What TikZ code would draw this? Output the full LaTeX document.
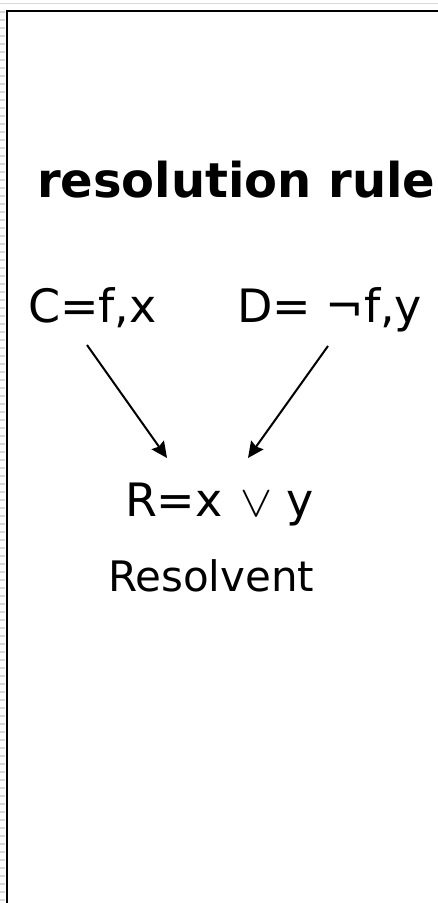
\documentclass[tikz,border=0pt]{standalone}
\usepackage{fontspec}
\usepackage{graphicx}
\setmainfont{DejaVu Sans}
\usetikzlibrary{arrows.meta}
\definecolor{framegray}{RGB}{217,217,217}
\tikzset{
  lbl/.style={anchor=base west, inner sep=0pt, outer sep=0pt},
  conn/.style={line width=2pt, -{Stealth[length=16pt,width=15pt,inset=2pt]}},
}
\newcommand{\orsym}{\resizebox{32pt}{24.5pt}{$\vee$}}
\begin{document}
\begin{tikzpicture}[x=1pt,y=1pt]
\useasboundingbox (0,0) rectangle (438,-903);
\fill[white] (0,0) rectangle (438,-903);
% slide frame remnants
\draw[framegray, line width=1.4pt] (0,-3.7) -- (438,-3.7);
\draw[framegray, line width=5pt, dash pattern=on 2pt off 6pt] (2.5,-11) -- (2.5,-903);
\draw[black, line width=2.2pt] (7,-903) -- (7,-11) -- (438,-11);
% texts
\node[lbl] (title) at (37,-197) {\fontsize{48}{52}\selectfont\bfseries resolution rule};
\node[lbl] (C) at (28,-322) {\fontsize{46}{50}\selectfont C=f,x};
\node[lbl] (D) at (237,-322) {\fontsize{46}{50}\selectfont D= ¬f,y};
\node[lbl] (R) at (125,-516) {\fontsize{46}{50}\selectfont R=x\hspace{18pt}\orsym\hspace{13.5pt}y};
\node[lbl] (Res) at (108,-591) {\fontsize{42}{46}\selectfont Resolvent};
% connectors
\coordinate (cs) at (87,-345);
\coordinate (ce) at (167,-458);
\coordinate (ds) at (328,-346);
\coordinate (de) at (248,-458);
\draw[conn] (cs) -- (ce);
\draw[conn] (ds) -- (de);
\end{tikzpicture}
\end{document}
